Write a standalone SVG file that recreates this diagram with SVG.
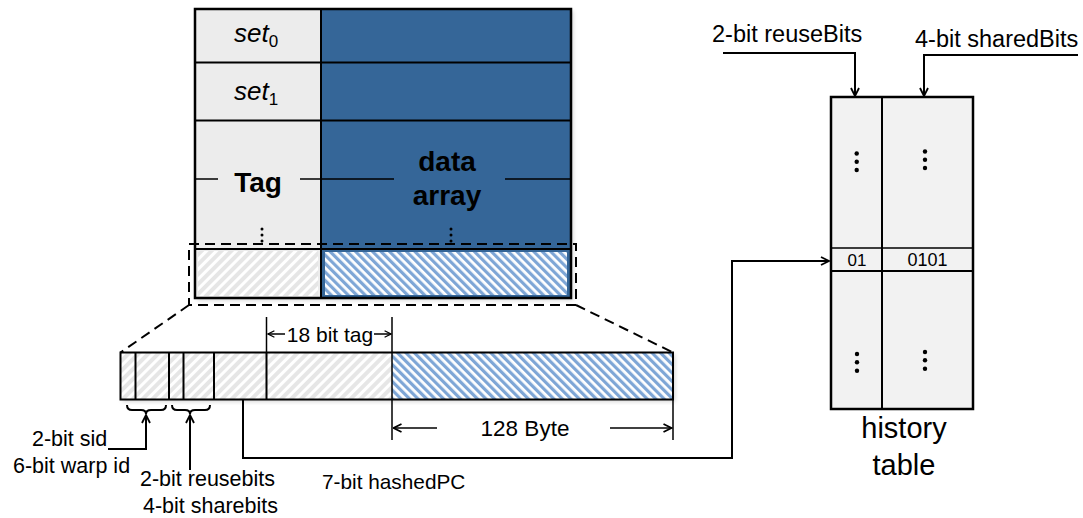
<svg xmlns="http://www.w3.org/2000/svg" width="1083" height="518" viewBox="0 0 1083 518">
  <style>
    .lbl { font-family: "Liberation Sans", Arial, sans-serif; fill: #000; }
    .ln { fill: none; stroke: #000; stroke-width: 2; }
    .thin { fill: none; stroke: #000; stroke-width: 1.5; }
    .dash { fill: none; stroke: #000; stroke-width: 2; stroke-dasharray: 10 6; }
    .dot { fill: #000; }
  </style>
  <defs>
    <pattern id="hatchGray" width="7" height="7" patternUnits="userSpaceOnUse" patternTransform="rotate(45)">
      <rect width="7" height="7" fill="#e6e6e6"/>
      <rect width="3" height="7" fill="#ffffff"/>
    </pattern>
    <pattern id="hatchBlue" width="6" height="6" patternUnits="userSpaceOnUse" patternTransform="rotate(-45)">
      <rect width="6" height="6" fill="#ffffff"/>
      <rect width="3.2" height="6" fill="#7ea6d6"/>
    </pattern>
    <marker id="arr" viewBox="0 0 10 10" refX="9" refY="5" markerWidth="10" markerHeight="10" markerUnits="userSpaceOnUse" orient="auto">
      <path d="M1,1 L9,5 L1,9" fill="none" stroke="#000" stroke-width="1.8"/>
    </marker>
    <marker id="arrS" viewBox="0 0 10 10" refX="9" refY="5" markerWidth="8" markerHeight="8" markerUnits="userSpaceOnUse" orient="auto">
      <path d="M1,1 L9,5 L1,9" fill="none" stroke="#000" stroke-width="1.6"/>
    </marker>
    <filter id="shadow" x="-5%" y="-5%" width="110%" height="115%">
      <feDropShadow dx="2" dy="2" stdDeviation="2" flood-color="#000" flood-opacity="0.18"/>
    </filter>
  </defs>

  <!-- cache: tag array and data array -->
  <g id="cache">
    <g filter="url(#shadow)">
      <rect x="195" y="9" width="126" height="289" fill="#ececec"/>
      <rect x="321" y="9" width="250" height="289" fill="#356698"/>
    </g>
    <rect x="198" y="251" width="120" height="45" fill="url(#hatchGray)"/>
    <rect x="325" y="252" width="242" height="43" fill="url(#hatchBlue)"/>
    <line class="ln" x1="195" y1="62.5" x2="571" y2="62.5"/>
    <line class="ln" x1="195" y1="120.5" x2="571" y2="120.5"/>
    <line class="ln" x1="195" y1="249" x2="571" y2="249"/>
    <line class="ln" x1="321" y1="9" x2="321" y2="298"/>
    <rect x="195" y="9" width="376" height="289" fill="none" stroke="#000" stroke-width="2.5"/>
    <!-- middle row line broken by the labels -->
    <line class="thin" x1="196" y1="179" x2="218" y2="179"/>
    <line class="thin" x1="300" y1="179" x2="394" y2="179"/>
    <line class="thin" x1="505" y1="179" x2="570" y2="179"/>
    <text class="lbl" x="234" y="42" font-size="26" font-style="italic">set<tspan font-size="17" font-style="normal" dy="5">0</tspan></text>
    <text class="lbl" x="234" y="100" font-size="26" font-style="italic">set<tspan font-size="17" font-style="normal" dy="5">1</tspan></text>
    <text class="lbl" x="258" y="192" font-size="28" font-weight="bold" text-anchor="middle">Tag</text>
    <text class="lbl" x="447" y="171" font-size="28" font-weight="bold" text-anchor="middle">data</text>
    <text class="lbl" x="447" y="205" font-size="28" font-weight="bold" text-anchor="middle">array</text>
    <circle class="dot" cx="262" cy="229" r="1.5"/>
    <circle class="dot" cx="262" cy="235" r="1.5"/>
    <circle class="dot" cx="262" cy="241" r="1.5"/>
    <circle class="dot" cx="451" cy="229" r="1.5"/>
    <circle class="dot" cx="451" cy="235" r="1.5"/>
    <circle class="dot" cx="451" cy="241" r="1.5"/>
    <rect class="dash" x="189" y="244" width="387" height="61"/>
  </g>

  <!-- expanded cache line -->
  <g id="cacheline">
    <g filter="url(#shadow)">
      <rect x="120.5" y="352.5" width="271.5" height="47" fill="url(#hatchGray)"/>
      <rect x="392" y="352.5" width="281" height="47" fill="url(#hatchBlue)"/>
    </g>
    <rect x="120.5" y="352.5" width="552.5" height="47" fill="none" stroke="#000" stroke-width="2"/>
    <line class="ln" x1="135.5" y1="352.5" x2="135.5" y2="399.5"/>
    <line class="ln" x1="169" y1="352.5" x2="169" y2="399.5"/>
    <line class="ln" x1="183.5" y1="352.5" x2="183.5" y2="399.5"/>
    <line class="ln" x1="214" y1="352.5" x2="214" y2="399.5"/>
    <line class="ln" x1="266.5" y1="352.5" x2="266.5" y2="399.5"/>
  </g>

  <!-- history table -->
  <g id="history">
    <rect x="831" y="97" width="142" height="312" fill="#f2f2f2" stroke="#000" stroke-width="2.5"/>
    <line class="ln" x1="882" y1="97" x2="882" y2="409"/>
    <line class="thin" x1="831" y1="248" x2="973" y2="248"/>
    <line class="ln" x1="831" y1="271" x2="973" y2="271"/>
    <text class="lbl" x="857" y="266" font-size="17" text-anchor="middle">01</text>
    <text class="lbl" x="927.5" y="266" font-size="18" text-anchor="middle">0101</text>
    <circle class="dot" cx="856.7" cy="153.5" r="2.2"/>
    <circle class="dot" cx="856.7" cy="161.7" r="2.2"/>
    <circle class="dot" cx="856.7" cy="170" r="2.2"/>
    <circle class="dot" cx="925" cy="151.5" r="2.2"/>
    <circle class="dot" cx="925" cy="159.7" r="2.2"/>
    <circle class="dot" cx="925" cy="168" r="2.2"/>
    <circle class="dot" cx="857" cy="354" r="2.2"/>
    <circle class="dot" cx="857" cy="362.3" r="2.2"/>
    <circle class="dot" cx="857" cy="370.7" r="2.2"/>
    <circle class="dot" cx="925" cy="352" r="2.2"/>
    <circle class="dot" cx="925" cy="360.3" r="2.2"/>
    <circle class="dot" cx="925" cy="368.7" r="2.2"/>
    <text class="lbl" x="904" y="438" font-size="29" text-anchor="middle">history</text>
    <text class="lbl" x="904" y="475" font-size="29" text-anchor="middle">table</text>
  </g>

  <!-- connectors, dimension lines and braces -->
  <g id="connectors">
    <line class="dash" x1="189" y1="305" x2="120.5" y2="352.5"/>
    <line class="dash" x1="576" y1="305" x2="673" y2="352.5"/>

    <!-- 18 bit tag -->
    <line class="thin" x1="266.5" y1="317" x2="266.5" y2="352.5"/>
    <line class="thin" x1="392" y1="317" x2="392" y2="440"/>
    <line class="thin" x1="673" y1="399.5" x2="673" y2="440"/>
    <line class="thin" x1="285" y1="334" x2="268" y2="334" marker-end="url(#arrS)"/>
    <line class="thin" x1="374" y1="334" x2="391" y2="334" marker-end="url(#arrS)"/>
    <text class="lbl" x="330" y="342" font-size="21" text-anchor="middle">18 bit tag</text>

    <!-- 128 Byte -->
    <line class="thin" x1="437" y1="428" x2="393.5" y2="428" marker-end="url(#arr)"/>
    <line class="thin" x1="610" y1="428" x2="671.5" y2="428" marker-end="url(#arr)"/>
    <text class="lbl" x="525" y="436" font-size="22.5" text-anchor="middle">128 Byte</text>

    <!-- braces under sid/warp id and reuse/share bits -->
    <path class="ln" stroke-width="2.5" d="M127,405 q0,5 5,5 h9 q5,0 5,4 q0,-4 5,-4 h10 q5,0 5,-5"/>
    <path class="ln" stroke-width="2.5" d="M172,405 q0,5 5,5 h8 q5,0 5,4 q0,-4 5,-4 h10 q5,0 5,-5"/>
    <path class="ln" d="M108,449 H146 V415" marker-end="url(#arr)"/>
    <path class="ln" d="M190,470 V415" marker-end="url(#arr)"/>
    <text class="lbl" x="32" y="446" font-size="21.5">2-bit sid</text>
    <text class="lbl" x="13" y="473" font-size="21.5">6-bit warp id</text>
    <text class="lbl" x="140" y="486" font-size="21.5">2-bit reusebits</text>
    <text class="lbl" x="143" y="513" font-size="21.5">4-bit sharebits</text>

    <!-- hashed PC indexes the history table -->
    <path class="ln" d="M243,400 V458 H732 V261 H829" marker-end="url(#arr)"/>
    <text class="lbl" x="322" y="489" font-size="20.8">7-bit hashedPC</text>

    <!-- history table fields -->
    <path class="ln" d="M723,53 H855 V96" marker-end="url(#arr)"/>
    <path class="ln" d="M1078,55 H924 V96" marker-end="url(#arr)"/>
    <text class="lbl" x="712" y="42" font-size="23.5">2-bit reuseBits</text>
    <text class="lbl" x="915" y="47" font-size="23.5">4-bit sharedBits</text>
  </g>
</svg>
